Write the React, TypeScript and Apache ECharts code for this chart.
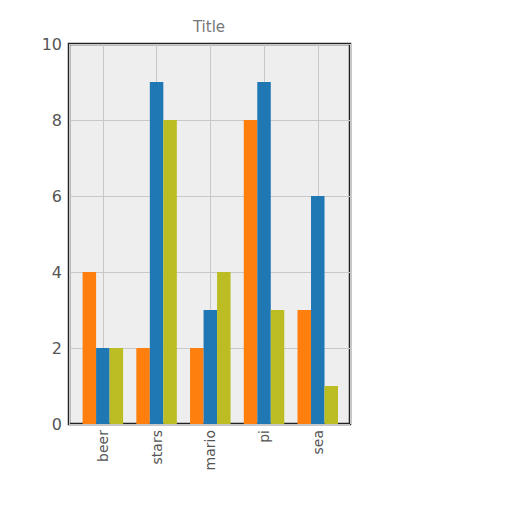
import { useEffect, useRef } from 'react';
import * as echarts from 'echarts';

const categories = ['beer', 'stars', 'mario', 'pi', 'sea'];
const orangeValues = [4, 2, 2, 8, 3];
const blueValues = [2, 9, 3, 9, 6];
const oliveValues = [2, 8, 4, 3, 1];
const yTicks = { min: 0, max: 10, interval: 2 };

const FONT = 'DejaVu Sans, Liberation Sans, sans-serif';

export default function App() {
  const chartRef = useRef<HTMLDivElement | null>(null);

  useEffect(() => {
    if (!chartRef.current) return;
    const chart = echarts.init(chartRef.current, null, { renderer: 'svg' });

    const barSeries = (name: string, data: number[], color: string) => ({
      name,
      type: 'bar' as const,
      data: data.map((v, i) => [i, v]),
      barWidth: 13.5,
      barGap: '0%',
      itemStyle: { color },
    });

    chart.setOption({
      animation: false,
      textStyle: { fontFamily: FONT },
      graphic: [
        {
          type: 'text',
          x: 209,
          y: 27,
          style: {
            text: 'Title',
            align: 'center',
            verticalAlign: 'middle',
            fontSize: 15,
            fill: '#777',
            fontFamily: FONT,
          },
        },
      ],
      grid: {
        left: 69,
        top: 44,
        width: 281,
        height: 380,
        show: true,
        backgroundColor: '#eeeeee',
        borderColor: '#222',
        borderWidth: 2.5,
        containLabel: false,
      },
      xAxis: {
        type: 'value',
        min: -0.63,
        max: 4.6,
        axisLine: { show: false },
        axisTick: { show: false },
        splitLine: { show: true, lineStyle: { color: '#c8c8c8', width: 1 } },
        axisLabel: {
          rotate: 90,
          fontSize: 14,
          color: '#555',
          margin: 6,
          formatter: (v: number) => (Number.isInteger(v) && categories[v] ? categories[v] : ''),
        },
      },
      yAxis: {
        type: 'value',
        min: yTicks.min,
        max: yTicks.max,
        interval: yTicks.interval,
        axisLine: { show: false },
        axisTick: { show: false },
        splitLine: { show: true, lineStyle: { color: '#c8c8c8', width: 1 } },
        axisLabel: { fontSize: 16, color: '#555', margin: 7 },
      },
      series: [
        barSeries('orange', orangeValues, '#ff7f0e'),
        barSeries('blue', blueValues, '#1f77b4'),
        barSeries('olive', oliveValues, '#bcbd22'),
      ],
    });

    return () => chart.dispose();
  }, []);

  return (
    <div
      ref={chartRef}
      style={{ position: 'fixed', left: 0, top: 0, width: 512, height: 512, background: '#fff' }}
    />
  );
}
